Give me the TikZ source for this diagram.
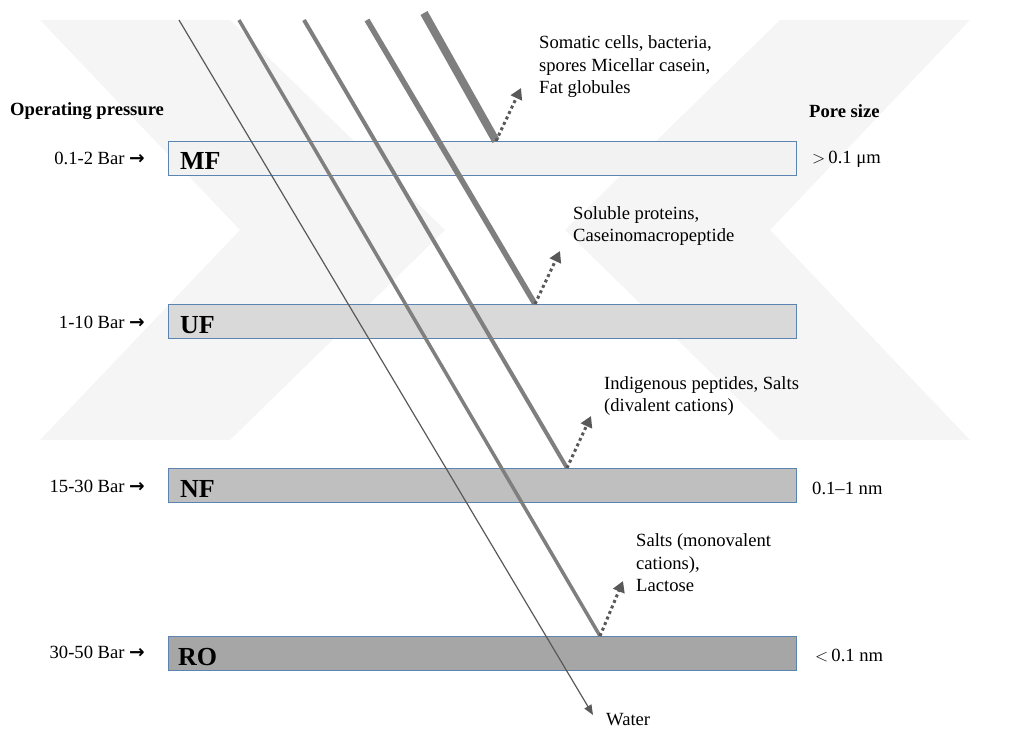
\documentclass[tikz,border=0pt]{standalone}
\usepackage{fontspec}
\setmainfont{Liberation Serif}
\newfontfamily\arrfont{DejaVu Sans}
\usetikzlibrary{arrows.meta,positioning}

\definecolor{mfcol}{HTML}{F2F2F2}
\definecolor{ufcol}{HTML}{D9D9D9}
\definecolor{nfcol}{HTML}{BFBFBF}
\definecolor{rocol}{HTML}{A6A6A6}
\definecolor{edgecol}{HTML}{5B84B1}
\definecolor{streamcol}{HTML}{7F7F7F}
\definecolor{watercol}{HTML}{595959}
\definecolor{markcol}{HTML}{F5F5F5}

\tikzset{
	membrane/.style={draw=edgecol, line width=1pt, minimum width=628pt, minimum height=34pt, inner sep=0pt},
	memlabel/.style={anchor=base west, inner sep=0pt, font=\fontsize{26}{28}\selectfont\bfseries},
	txt/.style={anchor=west, inner sep=0pt, align=left, font=\fontsize{18.6}{22.5}\selectfont},
	head/.style={anchor=west, inner sep=0pt, font=\fontsize{18.6}{22}\selectfont\bfseries},
	bar/.style={anchor=east, inner sep=0pt, font=\fontsize{18.6}{22}\selectfont},
	stream/.style={draw=streamcol, line cap=butt},
	reject/.style={draw=watercol, line width=3pt, dash pattern=on 3pt off 3pt, -{Triangle[length=11pt,width=12pt]}},
}

\newcommand{\arr}{{\arrfont\bfseries →}}

\begin{document}
\begin{tikzpicture}[x=1pt,y=-1pt]
	\useasboundingbox (0,0) rectangle (1011,729);
	
	\fill[markcol] (40,20) -- (230,20) -- (445,230) -- (230,440) -- (40,440) -- (240,230) -- cycle;
	\fill[markcol] (970,20) -- (780,20) -- (565,230) -- (780,440) -- (970,440) -- (770,230) -- cycle;
	
	\node[head] at (10,111) (oplbl) {Operating pressure};
	\node[head] at (809,111) (porelbl) {Pore size};
	
	\node[membrane, fill=mfcol] at (482,158) (mf) {};
	\node[membrane, fill=ufcol] at (482,321) (uf) {};
	\node[membrane, fill=nfcol] at (482,485) (nf) {};
	\node[membrane, fill=rocol] at (482,653) (ro) {};
	
	\node[memlabel] at (180,169) (mflbl) {MF};
	\node[memlabel] at (180,333) (uflbl) {UF};
	\node[memlabel] at (180,497) (nflbl) {NF};
	\node[memlabel] at (178,665) (rolbl) {RO};
	
	\node[bar] at (145,158) (mfbar) {0.1-2 Bar \arr};
	\node[bar] at (145,322) (ufbar) {1-10 Bar \arr};
	\node[bar] at (145,486) (nfbar) {15-30 Bar \arr};
	\node[bar] at (145,652) (robar) {30-50 Bar \arr};
	
	\node[txt] at (812,159) (mfpore) {$>$\,0.1 μm};
	\node[txt] at (812,488) (nfpore) {0.1–1 nm};
	\node[txt] at (815,656) (ropore) {$<$\,0.1 nm};
	
	\node[txt] at (539,67) (mfout) {Somatic cells, bacteria,\\spores Micellar casein,\\Fat globules};
	\node[txt] at (573,226) (ufout) {Soluble proteins,\\Caseinomacropeptide};
	\node[txt] at (604,396) (nfout) {Indigenous peptides, Salts\\(divalent cations)};
	\node[txt] at (636,563) (roout) {Salts (monovalent\\cations),\\Lactose};
	\node[txt] at (606,720) (water) {Water};
	
	\coordinate (s1) at (179,20);
	\coordinate (s2) at (239,20);
	\coordinate (s3) at (304,20);
	\coordinate (s4) at (367,20);
	\coordinate (s5) at (424,13);
	\coordinate (mfhit) at (496,141);
	\coordinate (ufhit) at (535,304);
	\coordinate (nfhit) at (567,468);
	\coordinate (rohit) at (600,636);
	\coordinate (mftip) at (521,88);
	\coordinate (uftip) at (560,251);
	\coordinate (nftip) at (591,416);
	\coordinate (rotip) at (623,581);
	\coordinate (wtip) at (593,715);
	
	\draw [stream, line width=8pt] (s5) -- (mfhit);
	\draw [stream, line width=5.5pt] (s4) -- (ufhit);
	\draw [stream, line width=4pt] (s3) -- (nfhit);
	\draw [stream, line width=3.5pt] (s2) -- (rohit);
	\draw [draw=watercol, line width=1.2pt, -{Triangle[length=10pt,width=8pt]}] (s1) -- (wtip);
	
	\draw [reject] (mfhit) -- (mftip);
	\draw [reject] (ufhit) -- (uftip);
	\draw [reject] (nfhit) -- (nftip);
	\draw [reject] (rohit) -- (rotip);
	
\end{tikzpicture}
\end{document}
